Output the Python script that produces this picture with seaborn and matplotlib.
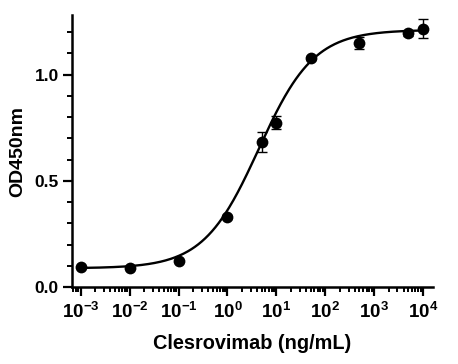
import numpy as np
import pandas as pd
import seaborn as sns
import matplotlib.pyplot as plt
from matplotlib.ticker import LogLocator, FixedLocator, MultipleLocator, NullFormatter

# measured points
conc = [0.001, 0.01, 0.1, 1, 5, 10, 50, 500, 5000, 10000]
od450 = [0.095, 0.088, 0.124, 0.33, 0.683, 0.774, 1.078, 1.150, 1.193, 1.216]
od_err = [0.005, 0.005, 0.005, 0.008, 0.047, 0.030, 0.010, 0.028, 0.010, 0.045]

# 4PL fit shown as the curve
fit_bottom = 0.088
fit_top = 1.21
fit_ec50 = 4.36
fit_hill = 0.77

x_tick_exp = [-3, -2, -1, 0, 1, 2, 3, 4]
y_ticks = [0.0, 0.5, 1.0]

sns.set_style("ticks")
plt.rcParams["font.family"] = ["Liberation Sans", "DejaVu Sans"]
plt.rcParams["font.weight"] = "bold"
plt.rcParams["text.color"] = "black"
plt.rcParams["axes.labelcolor"] = "black"
plt.rcParams["mathtext.fontset"] = "custom"
plt.rcParams["mathtext.rm"] = "Liberation Sans:bold"
plt.rcParams["mathtext.it"] = "Liberation Sans:bold"
plt.rcParams["mathtext.bf"] = "Liberation Sans:bold"

df = pd.DataFrame({"conc": conc, "od": od450, "err": od_err})

xs = np.logspace(-3, 4, 400)
curve = pd.DataFrame({
    "conc": xs,
    "od": fit_bottom + (fit_top - fit_bottom) / (1 + (fit_ec50 / xs) ** fit_hill),
})

fig = plt.figure(figsize=(4.58, 3.64), dpi=100)
ax = fig.add_axes([0.157, 0.2115, 0.788, 0.7473])

sns.lineplot(data=curve, x="conc", y="od", ax=ax, color="black", linewidth=1.7, zorder=2)
ax.errorbar(df["conc"], df["od"], yerr=df["err"], fmt="none", ecolor="black",
            elinewidth=1.0, capsize=3.5, capthick=1.0, zorder=3)
sns.scatterplot(data=df, x="conc", y="od", ax=ax, color="black", s=72,
                edgecolor="black", linewidth=0, zorder=4)

ax.set_xscale("log")
ax.set_xlim(10 ** -3.18, 10 ** 4.2)
ax.set_ylim(0, 1.28)

ax.xaxis.set_major_locator(FixedLocator([10.0 ** e for e in x_tick_exp]))
ax.set_xticklabels([rf"$10^{{{e}}}$" for e in x_tick_exp])
ax.xaxis.set_minor_locator(LogLocator(base=10, subs=np.arange(2, 10), numticks=20))
ax.xaxis.set_minor_formatter(NullFormatter())

ax.set_yticks(y_ticks)
ax.set_yticklabels([f"{v:.1f}" for v in y_ticks])
ax.yaxis.set_minor_locator(MultipleLocator(0.1))

sns.despine(ax=ax)
for side in ["left", "bottom"]:
    ax.spines[side].set_linewidth(1.8)
    ax.spines[side].set_color("black")

ax.tick_params(which="major", length=6.5, width=1.6, colors="black")
ax.tick_params(which="minor", length=3.5, width=1.4, colors="black")
ax.tick_params(axis="x", which="major", labelsize=13.5, pad=4)
ax.tick_params(axis="y", which="major", labelsize=12.5, pad=3)

ax.set_xlabel("Clesrovimab (ng/mL)", fontsize=14.3, fontweight="bold", labelpad=9, color="black")
ax.set_ylabel("OD450nm", fontsize=14, fontweight="bold", labelpad=6, color="black")

plt.savefig("out.png", dpi=100)
